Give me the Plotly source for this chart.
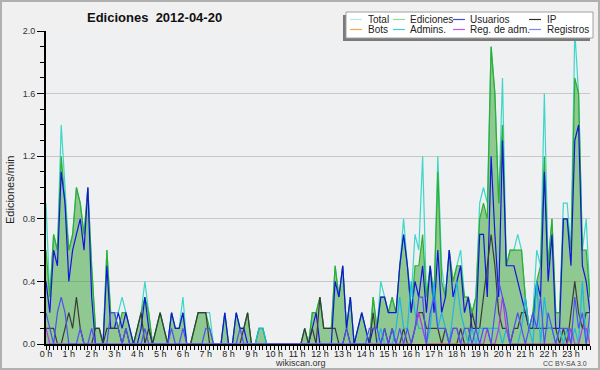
import plotly.graph_objects as go

# ---- data: edits per minute, one value per 10-minute slot (144 slots) ----
slot_minutes = list(range(0, 1440, 10))
hour_ticks = list(range(24))
hour_labels = [f"{h} h" for h in hour_ticks]

total = [
    0.9, 0.3, 0.7, 0.6, 1.4, 1.0,  0.6, 0.7, 1.0, 0.9, 0.7, 1.0,
    0.5, 0.1, 0.1, 0.0, 0.6, 0.2,  0.2, 0.2, 0.3, 0.2, 0.1, 0.0,
    0.1, 0.2, 0.4, 0.2, 0.0, 0.1,  0.2, 0.1, 0.0, 0.2, 0.1, 0.1,
    0.3, 0.0, 0.0, 0.1, 0.2, 0.2,  0.2, 0.2, 0.0, 0.0, 0.0, 0.2,
    0.0, 0.0, 0.2, 0.1, 0.1, 0.2,  0.0, 0.0, 0.1, 0.1, 0.0, 0.0,
    0.0, 0.0, 0.0, 0.0, 0.0, 0.0,  0.0, 0.0, 0.1, 0.0, 0.2, 0.2,
    0.3, 0.1, 0.1, 0.1, 0.5, 0.3,  0.5, 0.1, 0.3, 0.0, 0.1, 0.2,
    0.1, 0.0, 0.3, 0.1, 0.4, 0.3,  0.2, 0.3, 0.2, 0.5, 0.8, 0.5,
    0.3, 0.7, 0.6, 1.2, 0.3, 0.5,  0.3, 1.2, 0.5, 0.3, 0.6, 0.4,
    0.5, 0.6, 0.3, 0.3, 0.2, 0.3,  0.9, 1.0, 0.9, 1.9, 1.6, 0.9,
    1.7, 0.5, 0.6, 0.6, 0.7, 0.6,  0.3, 0.1, 0.2, 0.6, 0.5, 1.6,
    0.5, 0.8, 0.2, 0.2, 0.9, 0.9,  0.6, 2.0, 1.6, 0.6, 0.8, 0.3,
]
ediciones = [
    0.6, 0.3, 0.7, 0.6, 1.2, 0.9,  0.6, 0.7, 1.0, 0.9, 0.7, 1.0,
    0.5, 0.1, 0.1, 0.0, 0.6, 0.2,  0.2, 0.1, 0.2, 0.2, 0.1, 0.0,
    0.1, 0.2, 0.3, 0.2, 0.0, 0.1,  0.2, 0.1, 0.0, 0.2, 0.1, 0.1,
    0.2, 0.0, 0.0, 0.1, 0.2, 0.2,  0.2, 0.1, 0.0, 0.0, 0.0, 0.2,
    0.0, 0.0, 0.2, 0.1, 0.1, 0.2,  0.0, 0.0, 0.1, 0.1, 0.0, 0.0,
    0.0, 0.0, 0.0, 0.0, 0.0, 0.0,  0.0, 0.0, 0.1, 0.0, 0.2, 0.2,
    0.3, 0.1, 0.1, 0.1, 0.5, 0.3,  0.5, 0.1, 0.3, 0.0, 0.1, 0.2,
    0.1, 0.0, 0.3, 0.1, 0.3, 0.3,  0.2, 0.3, 0.2, 0.5, 0.7, 0.5,
    0.2, 0.5, 0.5, 0.7, 0.3, 0.5,  0.3, 1.1, 0.4, 0.3, 0.6, 0.4,
    0.5, 0.5, 0.3, 0.3, 0.2, 0.3,  0.8, 0.9, 0.8, 1.9, 1.6, 0.9,
    1.4, 0.5, 0.6, 0.6, 0.6, 0.6,  0.3, 0.1, 0.2, 0.4, 0.5, 1.2,
    0.5, 0.8, 0.2, 0.2, 0.8, 0.8,  0.6, 1.7, 1.6, 0.6, 0.6, 0.3,
]
usuarios = [
    0.4, 0.2, 0.6, 0.5, 1.1, 0.9,  0.4, 0.6, 0.7, 0.8, 0.6, 1.0,
    0.3, 0.0, 0.0, 0.0, 0.5, 0.1,  0.1, 0.2, 0.1, 0.2, 0.1, 0.0,
    0.0, 0.1, 0.3, 0.1, 0.0, 0.0,  0.0, 0.0, 0.0, 0.2, 0.1, 0.1,
    0.2, 0.0, 0.0, 0.0, 0.0, 0.0,  0.0, 0.0, 0.0, 0.0, 0.0, 0.2,
    0.0, 0.0, 0.2, 0.1, 0.1, 0.0,  0.0, 0.0, 0.0, 0.0, 0.0, 0.0,
    0.0, 0.0, 0.0, 0.0, 0.0, 0.0,  0.0, 0.0, 0.0, 0.0, 0.1, 0.2,
    0.0, 0.0, 0.0, 0.0, 0.4, 0.3,  0.5, 0.1, 0.3, 0.0, 0.1, 0.2,
    0.1, 0.0, 0.1, 0.1, 0.3, 0.3,  0.2, 0.2, 0.2, 0.5, 0.7, 0.5,
    0.2, 0.4, 0.3, 0.5, 0.2, 0.5,  0.2, 0.6, 0.2, 0.3, 0.6, 0.3,
    0.4, 0.5, 0.2, 0.3, 0.1, 0.1,  0.7, 0.7, 0.3, 1.2, 0.7, 0.3,
    1.3, 0.5, 0.5, 0.5, 0.4, 0.3,  0.2, 0.1, 0.1, 0.4, 0.3, 1.1,
    0.4, 0.7, 0.1, 0.1, 0.8, 0.8,  0.5, 1.3, 1.4, 0.5, 0.4, 0.2,
]
ip = [
    0.1, 0.1, 0.1, 0.0, 0.0, 0.1,  0.2, 0.1, 0.3, 0.1, 0.0, 0.0,
    0.0, 0.1, 0.1, 0.0, 0.1, 0.1,  0.1, 0.1, 0.0, 0.1, 0.0, 0.0,
    0.1, 0.2, 0.0, 0.1, 0.0, 0.1,  0.2, 0.1, 0.0, 0.0, 0.0, 0.0,
    0.0, 0.0, 0.0, 0.1, 0.2, 0.2,  0.2, 0.0, 0.0, 0.0, 0.0, 0.0,
    0.0, 0.0, 0.0, 0.0, 0.1, 0.2,  0.0, 0.0, 0.0, 0.0, 0.0, 0.0,
    0.0, 0.0, 0.0, 0.0, 0.0, 0.0,  0.0, 0.0, 0.1, 0.0, 0.1, 0.0,
    0.3, 0.1, 0.1, 0.1, 0.1, 0.0,  0.0, 0.1, 0.0, 0.0, 0.0, 0.0,
    0.0, 0.0, 0.2, 0.0, 0.0, 0.1,  0.0, 0.1, 0.0, 0.0, 0.1, 0.0,
    0.0, 0.1, 0.2, 0.2, 0.1, 0.1,  0.1, 0.1, 0.0, 0.1, 0.0, 0.0,
    0.0, 0.1, 0.0, 0.0, 0.2, 0.1,  0.1, 0.3, 0.5, 0.7, 0.5, 0.2,
    0.1, 0.1, 0.0, 0.1, 0.1, 0.2,  0.2, 0.1, 0.1, 0.1, 0.1, 0.1,
    0.1, 0.1, 0.1, 0.0, 0.1, 0.0,  0.2, 0.4, 0.2, 0.1, 0.2, 0.2,
]
bots = [0.0] * 144
admins = [
    0.0, 0.0, 0.0, 0.0, 0.0, 0.0,  0.0, 0.0, 0.0, 0.0, 0.0, 0.0,
    0.0, 0.0, 0.0, 0.0, 0.0, 0.0,  0.0, 0.0, 0.0, 0.0, 0.0, 0.0,
    0.0, 0.0, 0.0, 0.0, 0.0, 0.0,  0.0, 0.0, 0.0, 0.0, 0.0, 0.0,
    0.0, 0.0, 0.0, 0.0, 0.0, 0.0,  0.0, 0.0, 0.0, 0.0, 0.0, 0.0,
    0.0, 0.0, 0.0, 0.0, 0.0, 0.0,  0.0, 0.0, 0.1, 0.1, 0.0, 0.0,
    0.0, 0.0, 0.0, 0.0, 0.0, 0.0,  0.0, 0.0, 0.0, 0.0, 0.0, 0.0,
    0.0, 0.0, 0.0, 0.0, 0.0, 0.0,  0.0, 0.0, 0.0, 0.0, 0.0, 0.0,
    0.0, 0.0, 0.0, 0.0, 0.1, 0.0,  0.0, 0.0, 0.1, 0.3, 0.1, 0.1,
    0.4, 0.2, 0.1, 0.1, 0.0, 0.1,  0.4, 0.1, 0.2, 0.1, 0.0, 0.2,
    0.4, 0.2, 0.1, 0.0, 0.1, 0.0,  0.1, 0.1, 0.1, 0.1, 0.1, 0.1,
    0.0, 0.1, 0.0, 0.0, 0.0, 0.1,  0.3, 0.1, 0.0, 0.4, 0.0, 0.3,
    0.1, 0.1, 0.0, 0.1, 0.0, 0.1,  0.0, 0.1, 0.0, 0.4, 0.0, 0.1,
]
reg_adm = [
    0.1, 0.0, 0.0, 0.0, 0.0, 0.0,  0.0, 0.0, 0.0, 0.0, 0.0, 0.0,
    0.0, 0.0, 0.0, 0.0, 0.0, 0.0,  0.0, 0.0, 0.0, 0.0, 0.0, 0.0,
    0.0, 0.0, 0.0, 0.0, 0.0, 0.0,  0.0, 0.0, 0.0, 0.0, 0.0, 0.0,
    0.0, 0.0, 0.0, 0.0, 0.0, 0.0,  0.0, 0.0, 0.0, 0.0, 0.0, 0.0,
    0.0, 0.0, 0.0, 0.0, 0.0, 0.0,  0.0, 0.0, 0.0, 0.0, 0.0, 0.0,
    0.0, 0.0, 0.0, 0.0, 0.0, 0.0,  0.0, 0.0, 0.0, 0.0, 0.0, 0.0,
    0.0, 0.0, 0.0, 0.0, 0.0, 0.0,  0.0, 0.0, 0.0, 0.0, 0.0, 0.0,
    0.0, 0.0, 0.0, 0.0, 0.0, 0.0,  0.0, 0.0, 0.0, 0.0, 0.0, 0.0,
    0.0, 0.1, 0.2, 0.1, 0.0, 0.0,  0.0, 0.0, 0.0, 0.0, 0.0, 0.1,
    0.1, 0.0, 0.0, 0.0, 0.0, 0.0,  0.0, 0.0, 0.1, 0.0, 0.0, 0.1,
    0.3, 0.1, 0.0, 0.0, 0.0, 0.0,  0.0, 0.0, 0.0, 0.0, 0.0, 0.0,
    0.0, 0.0, 0.0, 0.0, 0.0, 0.0,  0.1, 0.0, 0.0, 0.1, 0.1, 0.0,
]
registros = [
    0.2, 0.1, 0.0, 0.2, 0.3, 0.2,  0.0, 0.0, 0.0, 0.1, 0.0, 0.0,
    0.1, 0.0, 0.0, 0.0, 0.0, 0.2,  0.2, 0.1, 0.0, 0.1, 0.0, 0.0,
    0.0, 0.0, 0.1, 0.0, 0.0, 0.0,  0.0, 0.0, 0.0, 0.1, 0.0, 0.0,
    0.1, 0.0, 0.0, 0.0, 0.0, 0.0,  0.1, 0.1, 0.0, 0.0, 0.0, 0.0,
    0.0, 0.0, 0.0, 0.1, 0.0, 0.0,  0.0, 0.0, 0.0, 0.0, 0.0, 0.0,
    0.0, 0.0, 0.0, 0.0, 0.0, 0.0,  0.0, 0.0, 0.0, 0.0, 0.0, 0.0,
    0.0, 0.0, 0.0, 0.0, 0.0, 0.0,  0.0, 0.1, 0.0, 0.0, 0.0, 0.0,
    0.0, 0.1, 0.1, 0.1, 0.0, 0.1,  0.0, 0.1, 0.0, 0.1, 0.0, 0.1,
    0.0, 0.1, 0.3, 0.3, 0.0, 0.2,  0.3, 0.1, 0.1, 0.1, 0.0, 0.1,
    0.1, 0.0, 0.1, 0.1, 0.0, 0.1,  0.0, 0.1, 0.1, 0.0, 0.2, 0.4,
    0.3, 0.2, 0.0, 0.1, 0.2, 0.1,  0.0, 0.1, 0.2, 0.1, 0.3, 0.0,
    0.2, 0.1, 0.0, 0.1, 0.1, 0.1,  0.0, 0.3, 0.1, 0.2, 0.0, 0.2,
]

# ---- styles ----
W, H = 600, 370
L, R, T, B = 46, 10, 31, 26
PW, PH = W - L - R, H - T - B
FONT = "Liberation Sans, Arial, sans-serif"


def px(xp):
    return (xp - L) / PW


def py(yp):
    return (H - B - yp) / PH


x_hours = [m / 60 for m in slot_minutes]

series = [
    ("Total", total, "#3fd6c8", "#b2ebe6"),
    ("Ediciones", ediciones, "#2fae2f", "#96d896"),
    ("Usuarios", usuarios, "#1414e0", "#4a4ae0"),
    ("IP", ip, "#3a3a3a", "#303030"),
    ("Bots", bots, "#f59a30", "#f6a848"),
    ("Admins.", admins, "#1fb6e0", "#48c8e2"),
    ("Reg. de adm.", reg_adm, "#b836e0", "#d050e6"),
    ("Registros", registros, "#5050f2", "#8484f2"),
]
draw_order = ["Total", "Ediciones", "Usuarios", "IP", "Bots", "Admins.", "Reg. de adm.", "Registros"]

fig = go.Figure()
lookup = {s[0]: s for s in series}
for name in draw_order:
    _, vals, col, _ = lookup[name]
    kw = {}
    if name == "Ediciones":
        kw = dict(fill="tozeroy", fillcolor="rgba(50,160,50,0.5)")
    fig.add_trace(go.Scatter(x=x_hours, y=vals, mode="lines", name=name,
                             line=dict(color=col, width=1.2), showlegend=False,
                             hoverinfo="skip", **kw))

shapes = []
annotations = []

# outer frame
shapes.append(dict(type="rect", xref="paper", yref="paper",
                   x0=px(1), x1=px(W - 1), y0=py(H - 1), y1=py(1),
                   line=dict(color="#b0b0b0", width=2), fillcolor="rgba(0,0,0,0)", layer="above"))

# legend box with shadow
shapes.append(dict(type="rect", xref="paper", yref="paper",
                   x0=px(343), x1=px(590), y0=py(41), y1=py(15),
                   line=dict(width=0), fillcolor="#7a7a7a", layer="above"))
shapes.append(dict(type="rect", xref="paper", yref="paper",
                   x0=px(346), x1=px(593), y0=py(38), y1=py(12),
                   line=dict(color="#a0a0a0", width=1), fillcolor="#ffffff", layer="above"))

cols = [(350, 366), (393, 408), (453, 468), (529, 545)]
rows = [19.5, 29.5]
legend_order = ["Total", "Ediciones", "Usuarios", "IP", "Bots", "Admins.", "Reg. de adm.", "Registros"]
for k, name in enumerate(legend_order):
    r, c = divmod(k, 4)
    sx, tx = cols[c]
    yy = rows[r]
    lcol = lookup[name][3]
    shapes.append(dict(type="line", xref="paper", yref="paper",
                       x0=px(sx), x1=px(sx + 12), y0=py(yy), y1=py(yy),
                       line=dict(color=lcol, width=1.2), layer="above"))
    annotations.append(dict(text=name, xref="paper", yref="paper", x=px(tx), y=py(yy),
                            xanchor="left", yanchor="middle", showarrow=False,
                            font=dict(family=FONT, size=10, color="#222222")))

# title
annotations.append(dict(text="<b>Ediciones\u00a0 2012-04-20</b>", xref="paper", yref="paper",
                        x=px(154), y=py(17), xanchor="center", yanchor="middle", showarrow=False,
                        font=dict(family=FONT, size=13, color="#111111")))
# y-axis title
annotations.append(dict(text="Ediciones/min", xref="paper", yref="paper",
                        x=px(10), y=py(190), xanchor="center", yanchor="middle", showarrow=False,
                        textangle=-90, font=dict(family=FONT, size=11, color="#222222")))
# footer
annotations.append(dict(text="wikiscan.org", xref="paper", yref="paper",
                        x=px(300), y=py(362.5), xanchor="center", yanchor="middle", showarrow=False,
                        font=dict(family=FONT, size=9, color="#333333")))
annotations.append(dict(text="CC BY-SA 3.0", xref="paper", yref="paper",
                        x=px(589), y=py(363), xanchor="right", yanchor="middle", showarrow=False,
                        font=dict(family=FONT, size=7, color="#444444")))

fig.update_layout(
    width=W, height=H, autosize=False,
    margin=dict(l=L, r=R, t=T, b=B, pad=0),
    paper_bgcolor="#f0f0f0", plot_bgcolor="#eef0f2",
    showlegend=False,
    shapes=shapes, annotations=annotations,
    xaxis=dict(range=[0, slot_minutes[-1] / 60], tickmode="array",
               tickvals=hour_ticks, ticktext=hour_labels,
               ticks="outside", ticklen=4, tickwidth=1, tickcolor="#000",
               ticklabelstandoff=-4,
               showline=True, linecolor="#000", linewidth=2, mirror=False,
               showgrid=False, zeroline=False, fixedrange=True,
               tickfont=dict(family=FONT, size=9, color="#222222"),
               minor=dict(dtick=1 / 6, tick0=0, ticks="outside", ticklen=4,
                          tickwidth=1, tickcolor="#000", showgrid=False)),
    yaxis=dict(range=[0, 2.0], tick0=0, dtick=0.4, tickformat=".1f",
               ticks="outside", ticklen=7, tickwidth=1, tickcolor="#000",
               showline=True, linecolor="#000", linewidth=2,
               showgrid=True, gridcolor="#c8c8c8", gridwidth=1,
               zeroline=False, fixedrange=True,
               tickfont=dict(family=FONT, size=9, color="#333333"),
               minor=dict(dtick=0.1, ticks="outside", ticklen=4, tickwidth=1,
                          tickcolor="#000", showgrid=False)),
)

fig.write_html("out.html", config={"displayModeBar": False},
               post_script=("document.documentElement.style.margin='0';"
                            "document.documentElement.style.overflow='hidden';"
                            "document.body.style.margin='0';document.body.style.padding='0';"
                            "document.body.style.overflow='hidden';"))
